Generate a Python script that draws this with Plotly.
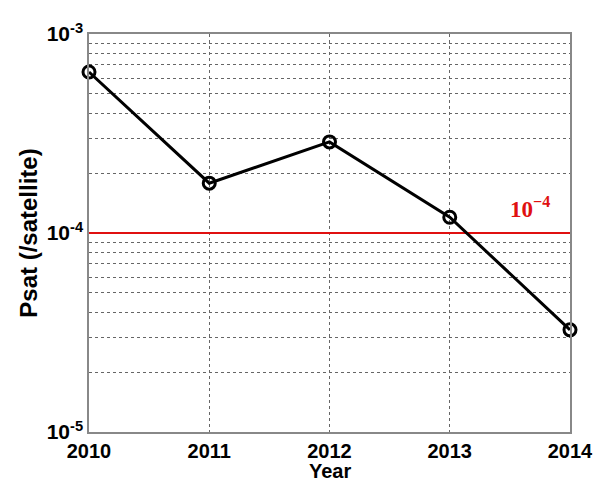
import plotly.graph_objects as go

years = [2010, 2011, 2012, 2013, 2014]
psat = [6.44e-4, 1.78e-4, 2.87e-4, 1.20e-4, 3.26e-5]
threshold = 1e-4
ytick_vals = [1e-5, 1e-4, 1e-3]
ytick_text = ["10<sup>-5</sup>", "10<sup>-4</sup>", "10<sup>-3</sup>"]
minor_vals = [m * 10.0 ** e for e in (-5, -4) for m in range(2, 10)]

fig = go.Figure()
fig.add_trace(go.Scatter(x=[years[0], years[-1]], y=[threshold, threshold], mode="lines",
                         line=dict(color="#e01010", width=2), hoverinfo="skip", showlegend=False))
fig.add_trace(go.Scatter(x=years, y=psat, mode="lines+markers", cliponaxis=False,
                         line=dict(color="black", width=3),
                         marker=dict(symbol="circle-open", size=12, color="black", line=dict(width=3)),
                         showlegend=False))
fig.update_layout(
    width=606, height=483,
    margin=dict(l=89, r=36, t=34, b=51),
    paper_bgcolor="white", plot_bgcolor="white",
    font=dict(family="Liberation Sans, Arial", size=22, color="black"),
    xaxis=dict(range=[2010, 2014], tickvals=years, ticktext=[str(y) for y in years],
               automargin=False, ticklabelstandoff=0,
               showgrid=True, gridcolor="#666", griddash="dot", gridwidth=1,
               showline=True, linecolor="#888", linewidth=1.5, mirror=True,
               ticks="", ticklen=0, tickfont=dict(size=20, family="Liberation Sans, Arial", weight="bold"),
               zeroline=False),
    yaxis=dict(type="log", range=[-5, -3], tickvals=ytick_vals, ticktext=ytick_text,
               automargin=False, showgrid=False,
               minor=dict(tickvals=minor_vals, showgrid=True, gridcolor="#666", griddash="dot", gridwidth=1, ticks=""),
               showline=True, linecolor="#888", linewidth=1.5, mirror=True,
               ticks="", tickfont=dict(size=21, family="Liberation Sans, Arial", weight="bold"),
               title=dict(text="<b>Psat (/satellite)</b>", standoff=2, font=dict(size=24))),
    annotations=[
        dict(x=2013.67, y=-3.87, xref="x", yref="y", text="<b>10<sup>−4</sup></b>",
             showarrow=False, font=dict(family="Liberation Serif", size=23, color="#e01010")),
        dict(x=0.5, y=0, xref="paper", yref="paper", yanchor="top", yshift=-26,
             text="<b>Year</b>", showarrow=False, font=dict(size=20)),
    ],
)
fig.write_html("out.html")
